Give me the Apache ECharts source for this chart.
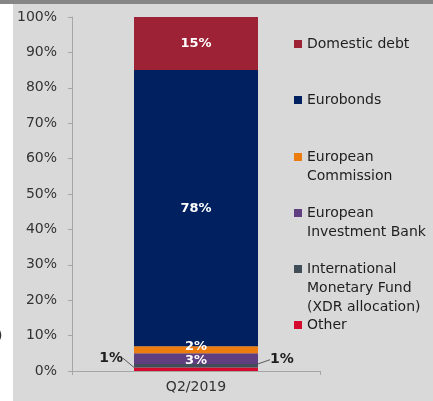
<!DOCTYPE html>
<html>
<head>
<meta charset="utf-8">
<script src="https://cdn.jsdelivr.net/npm/echarts@6/dist/echarts.min.js"></script>
<style>
  html, body { margin: 0; padding: 0; background: #d9d9d9; }
  #chart { width: 433px; height: 401px; }
</style>
</head>
<body>
<div id="chart"></div>
<script>
// Debt structure by creditor, share of total (stacked to 100%)
const categories = ['Q2/2019'];
const yTicks = [0, 10, 20, 30, 40, 50, 60, 70, 80, 90, 100];

// stacking order from the bottom of the bar upwards
const seriesNames = [
  'Other',
  'International Monetary Fund (XDR allocation)',
  'European Investment Bank',
  'European Commission',
  'Eurobonds',
  'Domestic debt'
];
const legendLabels = [
  'Other',
  'International\nMonetary Fund\n(XDR allocation)',
  'European\nInvestment Bank',
  'European\nCommission',
  'Eurobonds',
  'Domestic debt'
];
const otherValues = [1];
const imfValues = [1];
const eibValues = [3];
const ecValues = [2];
const eurobondValues = [78];
const domesticValues = [15];

const seriesValues = [otherValues, imfValues, eibValues, ecValues, eurobondValues, domesticValues];
const colors = ['#d40a2c', '#3f4e59', '#5f3f7f', '#ec7c0e', '#00205f', '#9e2236'];

// per-series label tweaks (small slices get an outside label with a leader line)
const labelStyles = [
  { position: 'left', distance: 5, color: '#1e1e1e', size: 14, layout: { dx: -6, dy: -11 }, line: true },
  { position: 'right', distance: 5, color: '#1e1e1e', size: 14, layout: { dx: 7, dy: -6 }, line: true },
  { position: 'inside', offset: [0, 2], color: '#ffffff', size: 13 },
  { position: 'inside', offset: [0, -3], color: '#ffffff', size: 13 },
  { position: 'inside', offset: [0, 0], color: '#ffffff', size: 13 },
  { position: 'inside', offset: [0, 0], color: '#ffffff', size: 13 }
];

const FONT = 'DejaVu Sans';
const LINE_H = 19;
// first-line centre of each legend entry, top entry first
const legendRowCenters = [44, 100, 157, 213, 269, 325];

const chart = echarts.init(document.getElementById('chart'), null, { renderer: 'canvas' });

const series = seriesNames.map((name, i) => {
  const ls = labelStyles[i];
  const s = {
    name: name,
    type: 'bar',
    stack: 'total',
    barWidth: '50%',
    data: seriesValues[i],
    itemStyle: { color: colors[i] },
    label: {
      show: true,
      position: ls.position,
      formatter: '{c}%',
      color: ls.color,
      fontFamily: FONT,
      fontWeight: 'bold',
      fontSize: ls.size
    }
  };
  if (ls.offset) s.label.offset = ls.offset;
  if (ls.distance) s.label.distance = ls.distance;
  if (ls.layout) s.labelLayout = ls.layout;
  if (ls.line) s.labelLine = { show: true, lineStyle: { color: '#5a5a5a', width: 1 } };
  return s;
});

// one legend block per entry; blank lines above a wrapped name keep the
// square level with its first line (legend text is centred on the square)
const legends = [];
for (let r = 0; r < seriesNames.length; r++) {
  const idx = seriesNames.length - 1 - r;
  const lines = legendLabels[idx].split('\n').length;
  const text = '\n'.repeat(lines - 1) + legendLabels[idx];
  legends.push({
    data: [seriesNames[idx]],
    left: 294,
    top: legendRowCenters[r] - LINE_H / 2 - (lines - 1) * LINE_H,
    padding: 0,
    itemWidth: 8,
    itemHeight: 8,
    icon: 'rect',
    selectedMode: false,
    formatter: () => text,
    textStyle: {
      fontFamily: FONT,
      fontSize: 14,
      color: '#1e1e1e',
      lineHeight: LINE_H
    }
  });
}

chart.setOption({
  backgroundColor: '#d9d9d9',
  animation: false,
  graphic: [
    { type: 'rect', shape: { x: 0, y: 0, width: 433, height: 4 }, style: { fill: '#868686' }, z: -10 },
    { type: 'rect', shape: { x: 0, y: 4, width: 13, height: 397 }, style: { fill: '#ffffff' }, z: -10 },
    { type: 'text', left: -3, top: 329, style: { text: ')', font: '14px "DejaVu Sans"', fill: '#333' } }
  ],
  grid: { left: 72, right: 113, top: 17, bottom: 30, containLabel: false },
  legend: legends,
  xAxis: {
    type: 'category',
    data: categories,
    axisLine: { show: true, lineStyle: { color: '#a6a6a6', width: 1 } },
    axisTick: { show: true, length: 4, lineStyle: { color: '#a6a6a6' } },
    axisLabel: { margin: 9, fontFamily: FONT, fontSize: 14, color: '#333333' }
  },
  yAxis: {
    type: 'value',
    min: yTicks[0],
    max: yTicks[yTicks.length - 1],
    interval: yTicks[1] - yTicks[0],
    axisLine: { show: true, lineStyle: { color: '#a6a6a6', width: 1 } },
    axisTick: { show: true, length: 4, lineStyle: { color: '#a6a6a6' } },
    splitLine: { show: false },
    axisLabel: { formatter: '{value}%', margin: 15, fontFamily: FONT, fontSize: 14, color: '#333333' }
  },
  series: series
});
</script>
</body>
</html>
